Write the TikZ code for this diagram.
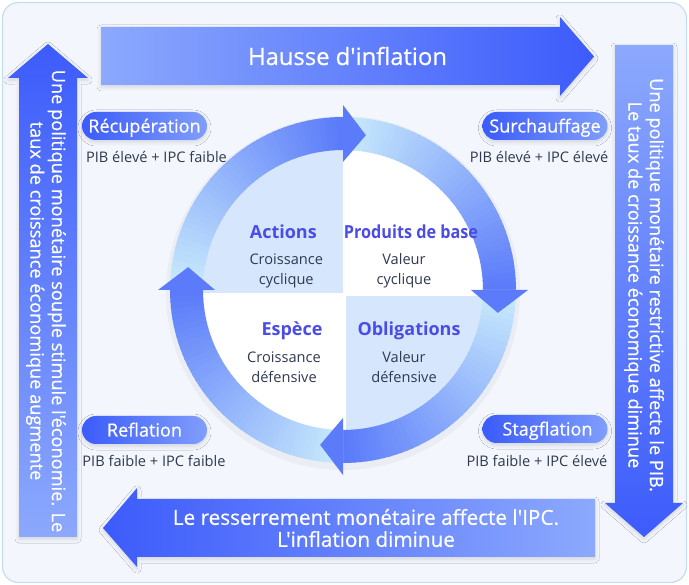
\documentclass[tikz,border=0pt]{standalone}
\usepackage{fontspec}
\newfontfamily\osans{Open Sans}
\newfontfamily\osansmed{Open Sans}[FakeBold=0.6]
\usetikzlibrary{shadows.blur}
\definecolor{cardfill}{HTML}{F3F7FD}
\definecolor{cardline}{HTML}{C5DCF2}
\definecolor{bigdark}{HTML}{3C5BFB}
\definecolor{biglight}{HTML}{8CA9FD}
\definecolor{ringhead}{HTML}{5B7BFA}
\definecolor{ringtail}{HTML}{C9EBFC}
\definecolor{quadblue}{HTML}{D6E6FC}
\definecolor{headtxt}{HTML}{4A4DE5}
\definecolor{bodytxt}{HTML}{2F3A4E}
\definecolor{pilldark}{HTML}{3B5BFB}
\definecolor{pilllight}{HTML}{809EFC}
\begin{document}
\begin{tikzpicture}[x=1pt,y=-1pt,
  softshadow/.style={blur shadow={shadow xshift=0pt, shadow yshift=-2pt, shadow blur radius=4pt, shadow opacity=14}},
  bigtxt/.style={text=white, font=\osansmed\fontsize{23.8}{27}\selectfont},
  sidetxt/.style={text=white, align=center, rotate=-90, font=\osansmed\fontsize{18.2}{21.5}\selectfont},
  bottxt/.style={text=white, align=center, font=\osansmed\fontsize{20.7}{22}\selectfont},
  pill/.style={rounded corners=14pt, left color=pilldark, right color=pilllight, text=white,
    minimum width=125pt, minimum height=28pt, inner sep=0pt, text height=17pt, text depth=4pt,
    font=\osansmed\fontsize{18.1}{20}\selectfont, softshadow},
  statetxt/.style={text=bodytxt, anchor=base, inner sep=0pt, font=\osans\fontsize{14.6}{17}\selectfont},
  qhead/.style={text=headtxt, anchor=base, inner sep=0pt, font=\osans\bfseries\fontsize{18}{20}\selectfont},
  qbody/.style={text=bodytxt, anchor=base, inner sep=0pt, font=\osans\fontsize{14.6}{17}\selectfont}
]
\useasboundingbox (0,0) rectangle (689,585);
% card
\draw[cardline, fill=cardfill, line width=1.2pt, rounded corners=16pt] (2.5,2.5) rectangle (686.5,582.5);

% ring shadow
\fill[black, opacity=0.035, even odd rule] (343,293) circle[radius=177] (343,293) circle[radius=136];

% quadrants
\begin{scope}
  \clip (343,291) circle[radius=141];
  \fill[white] (343,291) circle[radius=141];
  \fill[quadblue] (190,130) rectangle (342.7,292.7);
  \fill[quadblue] (345.5,296.5) rectangle (500,450);
\end{scope}

% ring arcs with gradient
\begin{scope}[shift={(343,290)}]
  \foreach \s in {180,270,360,450} {
    \foreach \i in {0,...,44} {
      \pgfmathsetmacro\p{\i*100/44}
      \pgfmathsetmacro\a{\s+2*\i}
      \pgfmathsetmacro\b{\a+2.4}
      \fill[color={ringhead!\p!ringtail}] (\a:173) -- (\b:173) -- (\b:140) -- (\a:140) -- cycle;
    }
  }
  \foreach \e in {270,360,450,540} {
    \fill[ringhead] (\e:128) -- (\e:185) -- ({\e+8.4}:156.5) -- cycle;
  }
\end{scope}

% quadrant texts
\node[qhead] (actions) at (283.3,239) {Actions};
\node[qbody] (act1) at (286.3,265) {Croissance};
\node[qbody] (act2) at (286.3,285) {cyclique};
\node[qhead, xscale=0.9] (prod) at (411,239) {Produits de base};
\node[qbody] (prod1) at (404,265) {Valeur};
\node[qbody] (prod2) at (404,285) {cyclique};
\node[qhead] (espece) at (292,336) {Espèce};
\node[qbody] (esp1) at (284,363) {Croissance};
\node[qbody] (esp2) at (284,383) {défensive};
\node[qhead] (oblig) at (409,336) {Obligations};
\node[qbody] (obl1) at (404,363) {Valeur};
\node[qbody] (obl2) at (404,383) {défensive};

% big arrows
\path[left color=biglight, right color=bigdark, softshadow]
  (101,27) -- (560,27) -- (560,17) -- (594,56.5) -- (560,96) -- (560,85) -- (101,85) -- cycle;
\node[bigtxt, anchor=base, inner sep=0pt] (hausse) at (347.5,65) {Hausse d'inflation};

\path[top color=bigdark, bottom color=biglight, softshadow]
  (19,537) -- (19,78) -- (8,78) -- (48,44) -- (88,78) -- (77,78) -- (77,537) -- cycle;
\node[sidetxt, inner sep=0pt] (lefttxt) at (46,301) {Une politique monétaire souple stimule l'économie. Le\\taux de croissance économique augmente};

\path[top color=biglight, bottom color=bigdark, softshadow]
  (615,45) -- (673,45) -- (673,503) -- (683,503) -- (644,537) -- (605,503) -- (615,503) -- cycle;
\node[sidetxt, inner sep=0pt] (righttxt) at (644,285) {Une politique monétaire restrictive affecte le PIB.\\Le taux de croissance économique diminue};

\path[left color=bigdark, right color=biglight, softshadow]
  (103,528) -- (137,488) -- (137,499) -- (595,499) -- (595,557) -- (137,557) -- (137,567) -- cycle;
\node[bottxt, inner sep=0pt] (bottxt) at (366,528) {Le resserrement monétaire affecte l'IPC.\\L'inflation diminue};

% pills and states
\node[pill] (recup) at (144.5,126) {Récupération};
\node[statetxt] (recups) at (156.5,163) {PIB élevé + IPC faible};
\node[pill] (surch) at (545,126) {Surchauffage};
\node[statetxt] (surchs) at (539,163) {PIB élevé + IPC élevé};
\node[pill] (refl) at (144.5,430) {Reflation};
\node[statetxt] (refls) at (154,467) {PIB faible + IPC faible};
\node[pill] (stag) at (545,429) {\hspace*{5pt}Stagflation};
\node[statetxt] (stags) at (537,467) {PIB faible + IPC élevé};
\end{tikzpicture}
\end{document}
